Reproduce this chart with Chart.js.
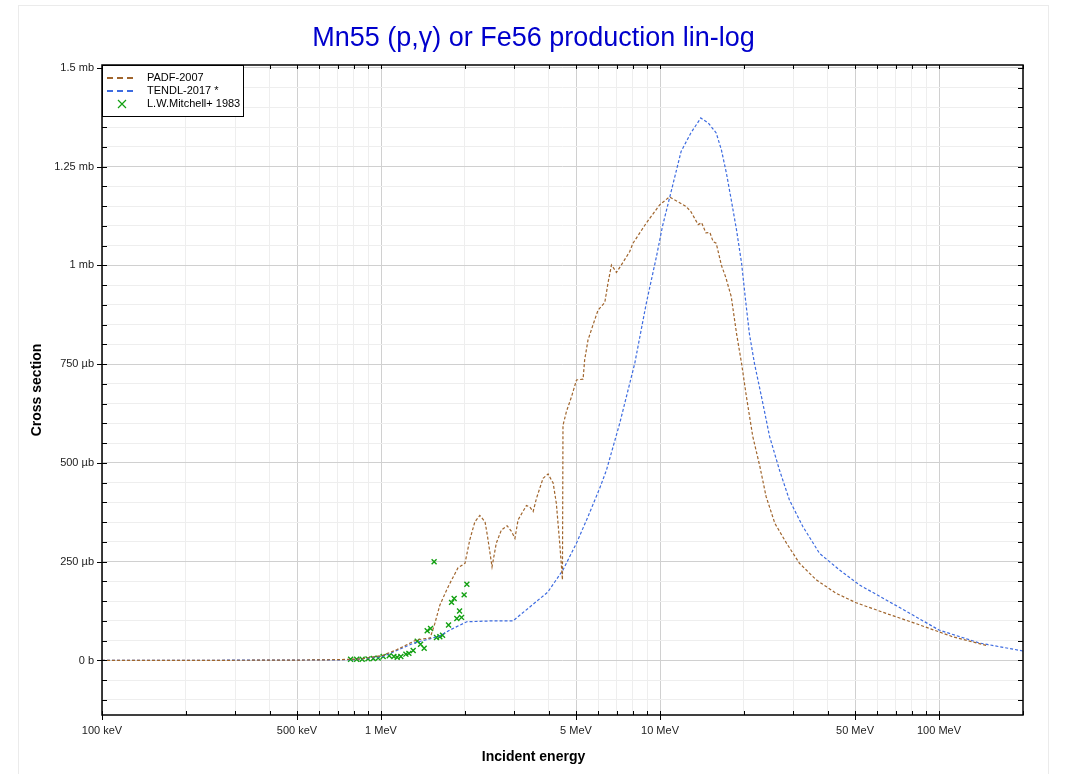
<!DOCTYPE html>
<html>
<head>
<meta charset="utf-8">
<script src="https://cdn.jsdelivr.net/npm/chart.js@4.4.1/dist/chart.umd.min.js"></script>
<style>
  html, body { margin: 0; padding: 0; background: #fff; overflow: hidden; }
  #box { position: absolute; left: 18px; top: 5px; width: 1029px; height: 790px; border: 1px solid #ebebeb; }
</style>
</head>
<body>
<div id="box"><canvas id="xsChart"></canvas></div>
<script>
// energies in MeV, cross sections in µb
const padfEnergy = [0.1, 0.3, 0.5, 0.7, 0.85, 1.016, 1.137, 1.34, 1.5, 1.56, 1.625, 1.718, 1.765, 1.886, 2.0,
  2.08, 2.17, 2.26, 2.36, 2.41, 2.5, 2.59, 2.7, 2.83, 2.94, 3.02, 3.1, 3.32, 3.41, 3.51, 3.61, 3.81, 3.97,
  4.14, 4.25, 4.37, 4.47, 4.49, 4.62, 4.82, 5.02, 5.3, 5.37, 5.52, 5.75, 6.0, 6.34, 6.51, 6.7, 6.98, 7.27,
  7.79, 8.0, 8.93, 9.97, 10.8, 11.6, 12.4, 12.9, 13.7, 14.1, 14.6, 15.1, 15.5, 15.9, 16.6, 17.2, 18.0, 18.8,
  19.6, 20.4, 21.5, 22.8, 24.0, 25.8, 28.4, 31.6, 36.3, 42.8, 50.5, 64.7, 85.2, 112, 150];
const padfXs = [0, 0.5, 1, 2, 4, 13, 27, 52, 57, 94, 140, 178, 195, 234, 246,
  305, 351, 367, 351, 313, 237, 297, 330, 341, 326, 309, 356, 392, 389, 377, 411, 461, 472,
  449, 398, 297, 204, 595, 630, 668, 710, 712, 761, 811, 849, 887, 906, 955, 1001, 982, 1001,
  1035, 1056, 1107, 1153, 1173, 1161, 1149, 1136, 1103, 1108, 1082, 1083, 1060, 1056, 1000, 970, 921, 828,
  752, 668, 567, 491, 415, 347, 297, 246, 204, 170, 146, 119, 90, 60, 37];

const tendlEnergy = [0.1, 0.5, 0.8, 1.016, 1.3, 1.625, 1.765, 2.03, 2.45, 2.97, 3.96, 4.49, 5.02, 5.52,
  6.08, 6.43, 7.17, 8.12, 8.93, 9.71, 10.2, 11.0, 11.9, 12.9, 14.0, 14.9, 15.9, 16.6, 17.3, 18.0, 18.8,
  19.6, 20.2, 20.9, 21.8, 23.1, 24.7, 26.8, 29.1, 32.5, 37.3, 44.0, 51.9, 64.7, 80.6, 100, 140, 200];
const tendlXs = [0, 1, 2, 10, 43, 62, 77, 98, 100, 100, 173, 229, 297, 364,
  436, 482, 600, 752, 904, 1022, 1098, 1191, 1288, 1335, 1373, 1360, 1335, 1292, 1233, 1166, 1090,
  1006, 920, 828, 752, 668, 567, 482, 406, 339, 271, 229, 191, 153, 115, 77, 44, 24];

const mitchellEnergy = [0.778, 0.818, 0.856, 0.898, 0.938, 0.977, 1.018, 1.07, 1.112, 1.143, 1.178, 1.228,
  1.259, 1.304, 1.348, 1.386, 1.428, 1.464, 1.505, 1.55, 1.581, 1.625, 1.662, 1.746, 1.79, 1.829, 1.87,
  1.912, 1.944, 1.986, 2.031];
const mitchellXs = [3, 3, 3, 4, 5, 6, 10, 12, 10, 8, 10, 16,
  18, 25, 49, 41, 31, 75, 81, 250, 58, 60, 64, 90, 147, 157, 106,
  125, 109, 166, 193];

const xTickValues = [0.1, 0.2, 0.3, 0.4, 0.5, 0.6, 0.7, 0.8, 0.9, 1, 2, 3, 4, 5, 6, 7, 8, 9,
  10, 20, 30, 40, 50, 60, 70, 80, 90, 100, 200];
const xMajorValues = [0.1, 0.5, 1, 5, 10, 50, 100];
const xMajorLabels = ['100 keV', '500 keV', '1 MeV', '5 MeV', '10 MeV', '50 MeV', '100 MeV'];
const yTickValues = [-100, -50, 0, 50, 100, 150, 200, 250, 300, 350, 400, 450, 500, 550, 600, 650, 700,
  750, 800, 850, 900, 950, 1000, 1050, 1100, 1150, 1200, 1250, 1300, 1350, 1400, 1450, 1500];
const yMajorValues = [0, 250, 500, 750, 1000, 1250, 1500];
const yMajorLabels = ['0 b', '250 µb', '500 µb', '750 µb', '1 mb', '1.25 mb', '1.5 mb'];

const FONT = '"Liberation Sans", Arial, sans-serif';
const toPoints = (xs, ys) => xs.map((x, i) => ({ x: x, y: ys[i] }));

// frame, inner tick marks and the boxed legend in the top-left corner
const frameAndLegend = {
  id: 'frameAndLegend',
  afterDraw(chart) {
    const { ctx, chartArea: a, scales: { x, y } } = chart;
    ctx.save();
    ctx.strokeStyle = '#000';
    ctx.lineWidth = 1;
    ctx.beginPath();
    y.ticks.forEach(t => {
      const py = Math.round(y.getPixelForValue(t.value)) + 0.5;
      const major = yMajorValues.includes(t.value);
      ctx.moveTo(a.left - (major ? 5 : 0), py);
      ctx.lineTo(a.left + 5, py);
      ctx.moveTo(a.right - 5, py);
      ctx.lineTo(a.right, py);
    });
    x.ticks.forEach(t => {
      const px = Math.round(x.getPixelForValue(t.value)) + 0.5;
      const major = xMajorValues.includes(t.value);
      ctx.moveTo(px, a.bottom + (major ? 5 : 0));
      ctx.lineTo(px, a.bottom - 4);
      ctx.moveTo(px, a.top);
      ctx.lineTo(px, a.top + 4);
    });
    ctx.stroke();
    ctx.lineWidth = 1.5;
    ctx.strokeRect(a.left, a.top, a.right - a.left, a.bottom - a.top);

    // legend
    const lx = a.left, ly = a.top, lw = 141, lh = 51;
    ctx.fillStyle = '#fff';
    ctx.fillRect(lx, ly, lw, lh);
    ctx.lineWidth = 1;
    ctx.strokeRect(lx + 0.5, ly + 0.5, lw, lh);
    ctx.font = '11px ' + FONT;
    ctx.textBaseline = 'middle';
    chart.data.datasets.forEach((ds, i) => {
      const ry = ly + 13 + i * 13;
      ctx.strokeStyle = ds.borderColor;
      if (ds.showLine) {
        ctx.lineWidth = 2;
        ctx.setLineDash([6, 4]);
        ctx.beginPath();
        ctx.moveTo(lx + 5, ry);
        ctx.lineTo(lx + 33, ry);
        ctx.stroke();
        ctx.setLineDash([]);
      } else {
        ctx.lineWidth = 1.2;
        ctx.beginPath();
        ctx.moveTo(lx + 16, ry - 4); ctx.lineTo(lx + 24, ry + 4);
        ctx.moveTo(lx + 24, ry - 4); ctx.lineTo(lx + 16, ry + 4);
        ctx.stroke();
      }
      ctx.fillStyle = '#000';
      ctx.fillText(ds.label, lx + 45, ry);
    });
    ctx.restore();
  }
};

new Chart(document.getElementById('xsChart'), {
  type: 'scatter',
  data: {
    datasets: [
      {
        label: 'PADF-2007',
        data: toPoints(padfEnergy, padfXs),
        showLine: true,
        borderColor: '#a0652d',
        borderWidth: 1.2,
        borderDash: [3, 2],
        pointRadius: 0
      },
      {
        label: 'TENDL-2017 *',
        data: toPoints(tendlEnergy, tendlXs),
        showLine: true,
        borderColor: '#3d6be0',
        borderWidth: 1.2,
        borderDash: [3, 2],
        pointRadius: 0
      },
      {
        label: 'L.W.Mitchell+ 1983',
        data: toPoints(mitchellEnergy, mitchellXs),
        showLine: false,
        pointStyle: 'crossRot',
        pointRadius: 3.5,
        borderColor: '#12a012',
        borderWidth: 1.4
      }
    ]
  },
  options: {
    responsive: true,
    maintainAspectRatio: false,
    animation: false,
    layout: { padding: 0 },
    plugins: {
      legend: { display: false },
      tooltip: { enabled: false },
      title: {
        display: true,
        text: 'Mn55 (p,γ) or Fe56 production lin-log',
        color: '#0000cc',
        font: { family: FONT, size: 27, weight: 'normal' },
        padding: { top: 16, bottom: 10.6 }
      },
      subtitle: {
        display: true,
        position: 'bottom',
        text: 'Incident energy',
        color: '#000',
        font: { family: FONT, size: 14, weight: 'bold' },
        padding: { top: 0, bottom: 30.6 }
      }
    },
    scales: {
      x: {
        type: 'logarithmic',
        min: 0.1,
        max: 200,
        afterBuildTicks: s => { s.ticks = xTickValues.map(v => ({ value: v })); },
        afterFit: s => { s.height = 33.6; },
        border: { display: false },
        grid: {
          drawTicks: false,
          color: c => xMajorValues.includes(c.tick.value) ? '#d0d0d0' : '#eeeeee'
        },
        ticks: {
          autoSkip: false,
          maxRotation: 0,
          padding: 9,
          color: '#222',
          font: { family: FONT, size: 11 },
          callback: v => {
            const i = xMajorValues.indexOf(v);
            return i >= 0 ? xMajorLabels[i] : '';
          }
        }
      },
      y: {
        min: -138,
        max: 1507,
        afterBuildTicks: s => { s.ticks = yTickValues.map(v => ({ value: v })); },
        afterFit: s => { s.width = 83; },
        border: { display: false },
        grid: {
          drawTicks: false,
          color: c => yMajorValues.includes(c.tick.value) ? '#d0d0d0' : '#eeeeee'
        },
        title: {
          display: true,
          text: 'Cross section',
          color: '#000',
          font: { family: FONT, size: 14, weight: 'bold' },
          padding: { top: 9.6, bottom: 0 }
        },
        ticks: {
          autoSkip: false,
          padding: 8,
          color: '#222',
          font: { family: FONT, size: 11 },
          callback: v => {
            const i = yMajorValues.indexOf(v);
            return i >= 0 ? yMajorLabels[i] : '';
          }
        }
      },
      // empty right-hand axis that only reserves the gap right of the frame
      yRight: {
        position: 'right',
        display: true,
        afterFit: s => { s.width = 25; },
        border: { display: false },
        grid: { display: false, drawTicks: false },
        ticks: { display: false }
      }
    }
  },
  plugins: [frameAndLegend]
});
</script>
</body>
</html>
